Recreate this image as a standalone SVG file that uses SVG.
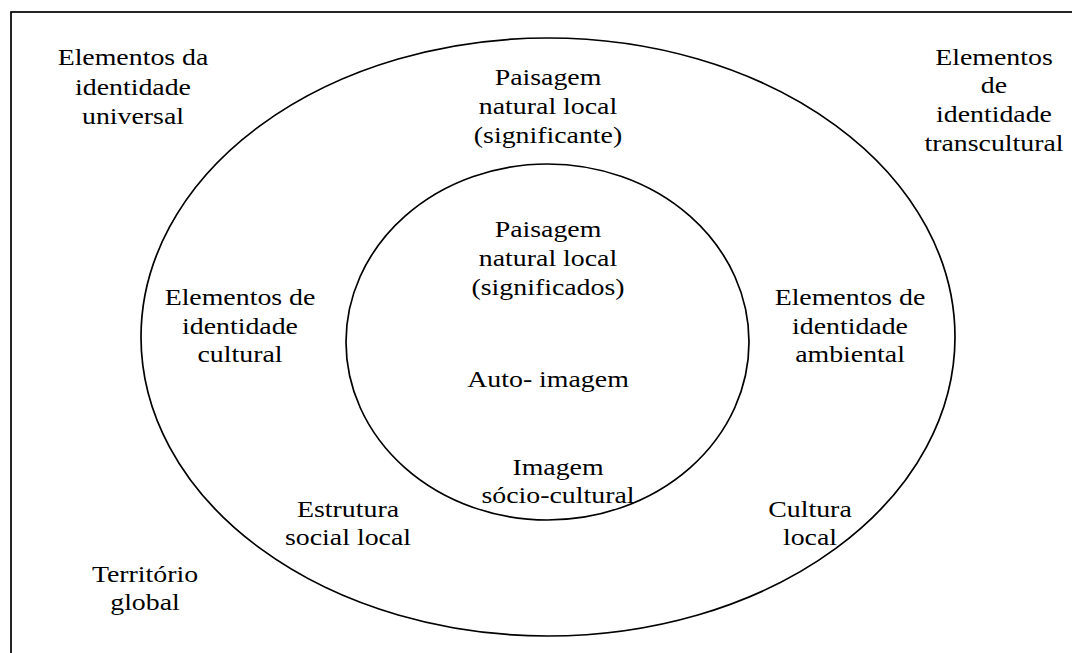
<svg xmlns="http://www.w3.org/2000/svg" width="1072" height="653" viewBox="0 0 1072 653">
<style>
.ln{fill:none;stroke:#000;stroke-width:1.7}
</style>
<rect x="0" y="0" width="1072" height="653" fill="#fff"/>
<g id="frame"><rect class="ln" x="11" y="12" width="1080" height="660"/></g>
<g id="outer"><ellipse class="ln" cx="548" cy="337" rx="407" ry="299"/></g>
<g id="inner"><ellipse class="ln" cx="547.5" cy="342" rx="201.5" ry="178"/></g>
<g font-family="'Liberation Serif', 'DejaVu Serif', serif" font-size="24" text-anchor="middle" fill="#000">
<g id="t-universal" transform="translate(133,0) scale(1.16,1)"><text x="0" y="65">Elementos da</text><text x="0" y="95">identidade</text><text x="0" y="124">universal</text></g>
<g id="t-transcultural" transform="translate(994,0) scale(1.16,1)"><text x="0" y="65">Elementos</text><text x="0" y="93">de</text><text x="0" y="122">identidade</text><text x="0" y="151">transcultural</text></g>
<g id="t-significante" transform="translate(548,0) scale(1.16,1)"><text x="0" y="85">Paisagem</text><text x="0" y="114">natural local</text><text x="0" y="143">(significante)</text></g>
<g id="t-significados" transform="translate(548,0) scale(1.16,1)"><text x="0" y="237">Paisagem</text><text x="0" y="266">natural local</text><text x="0" y="295">(significados)</text></g>
<g id="t-auto" transform="translate(548,0) scale(1.16,1)"><text x="0" y="387">Auto- imagem</text></g>
<g id="t-socio" transform="translate(558,0) scale(1.16,1)"><text x="0" y="475">Imagem</text><text x="0" y="503">sócio-cultural</text></g>
<g id="t-cultural" transform="translate(240,0) scale(1.16,1)"><text x="0" y="305">Elementos de</text><text x="0" y="334">identidade</text><text x="0" y="362">cultural</text></g>
<g id="t-ambiental" transform="translate(850,0) scale(1.16,1)"><text x="0" y="305">Elementos de</text><text x="0" y="334">identidade</text><text x="0" y="362">ambiental</text></g>
<g id="t-estrutura" transform="translate(348,0) scale(1.16,1)"><text x="0" y="517">Estrutura</text><text x="0" y="545">social local</text></g>
<g id="t-cultura" transform="translate(810,0) scale(1.16,1)"><text x="0" y="517">Cultura</text><text x="0" y="545">local</text></g>
<g id="t-territorio" transform="translate(145,0) scale(1.16,1)"><text x="0" y="582">Território</text><text x="0" y="610">global</text></g>
</g>
</svg>
